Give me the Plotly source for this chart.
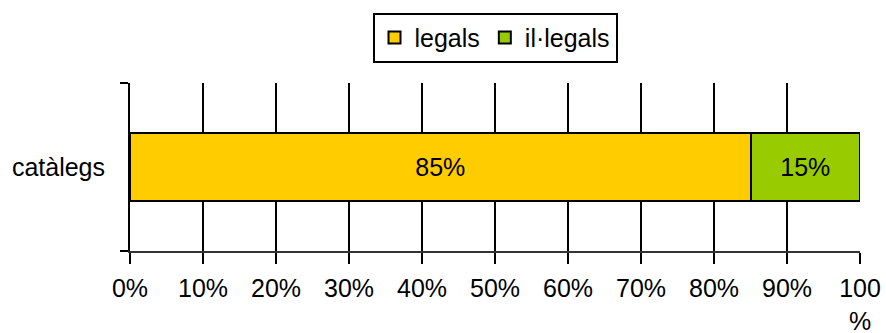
import plotly.graph_objects as go

categories = ["catàlegs"]
series_names = ["legals", "il·legals"]
legals = [85]
illegals = [15]
tick_vals = [0, 10, 20, 30, 40, 50, 60, 70, 80, 90, 100]
tick_text = ["0%", "10%", "20%", "30%", "40%", "50%", "60%", "70%", "80%", "90%", "100<br>%"]

colors = ["#FFCC00", "#99CC00"]
FONT = "Liberation Sans, Arial, sans-serif"
FS = 25

fig = go.Figure()
for name, vals, col in zip(series_names, [legals, illegals], colors):
    fig.add_trace(go.Bar(
        y=categories, x=vals, name=name, orientation="h",
        marker=dict(color=col, line=dict(color="black", width=2)),
        text=[f"{v}%" for v in vals], textposition="inside",
        insidetextanchor="middle", constraintext="none",
        textfont=dict(color="black", size=FS, family=FONT),
        width=0.405,
    ))

fig.update_layout(
    barmode="stack",
    width=886, height=333,
    margin=dict(l=130, r=26, t=83, b=82, autoexpand=False),
    paper_bgcolor="white", plot_bgcolor="white",
    font=dict(family=FONT, size=FS, color="black"),
    showlegend=True,
    legend=dict(orientation="h", x=0.5, xanchor="center",
                yref="container", y=0.962, yanchor="top",
                bordercolor="black", borderwidth=2, font=dict(size=FS),
                traceorder="normal", itemwidth=30),
    xaxis=dict(range=[0, 100], tickvals=tick_vals, ticktext=tick_text,
               showgrid=True, gridcolor="black", gridwidth=2,
               ticks="outside", ticklen=11, tickwidth=2, tickcolor="black",
               showline=True, linecolor="#333333", linewidth=2,
               zeroline=False, fixedrange=True, automargin=False,
               ticklabeloverflow="allow", ticklabelstandoff=3),
    yaxis=dict(type="category", tickson="boundaries", ticks="outside", ticklen=8,
               tickwidth=2, tickcolor="black", showline=True, linecolor="black",
               linewidth=2, showgrid=False, ticklabelstandoff=18, automargin=False),
)

fig.write_html(
    "out.html",
    config={"displayModeBar": False},
    post_script="document.body.style.margin='0';document.body.style.overflow='hidden';",
)
